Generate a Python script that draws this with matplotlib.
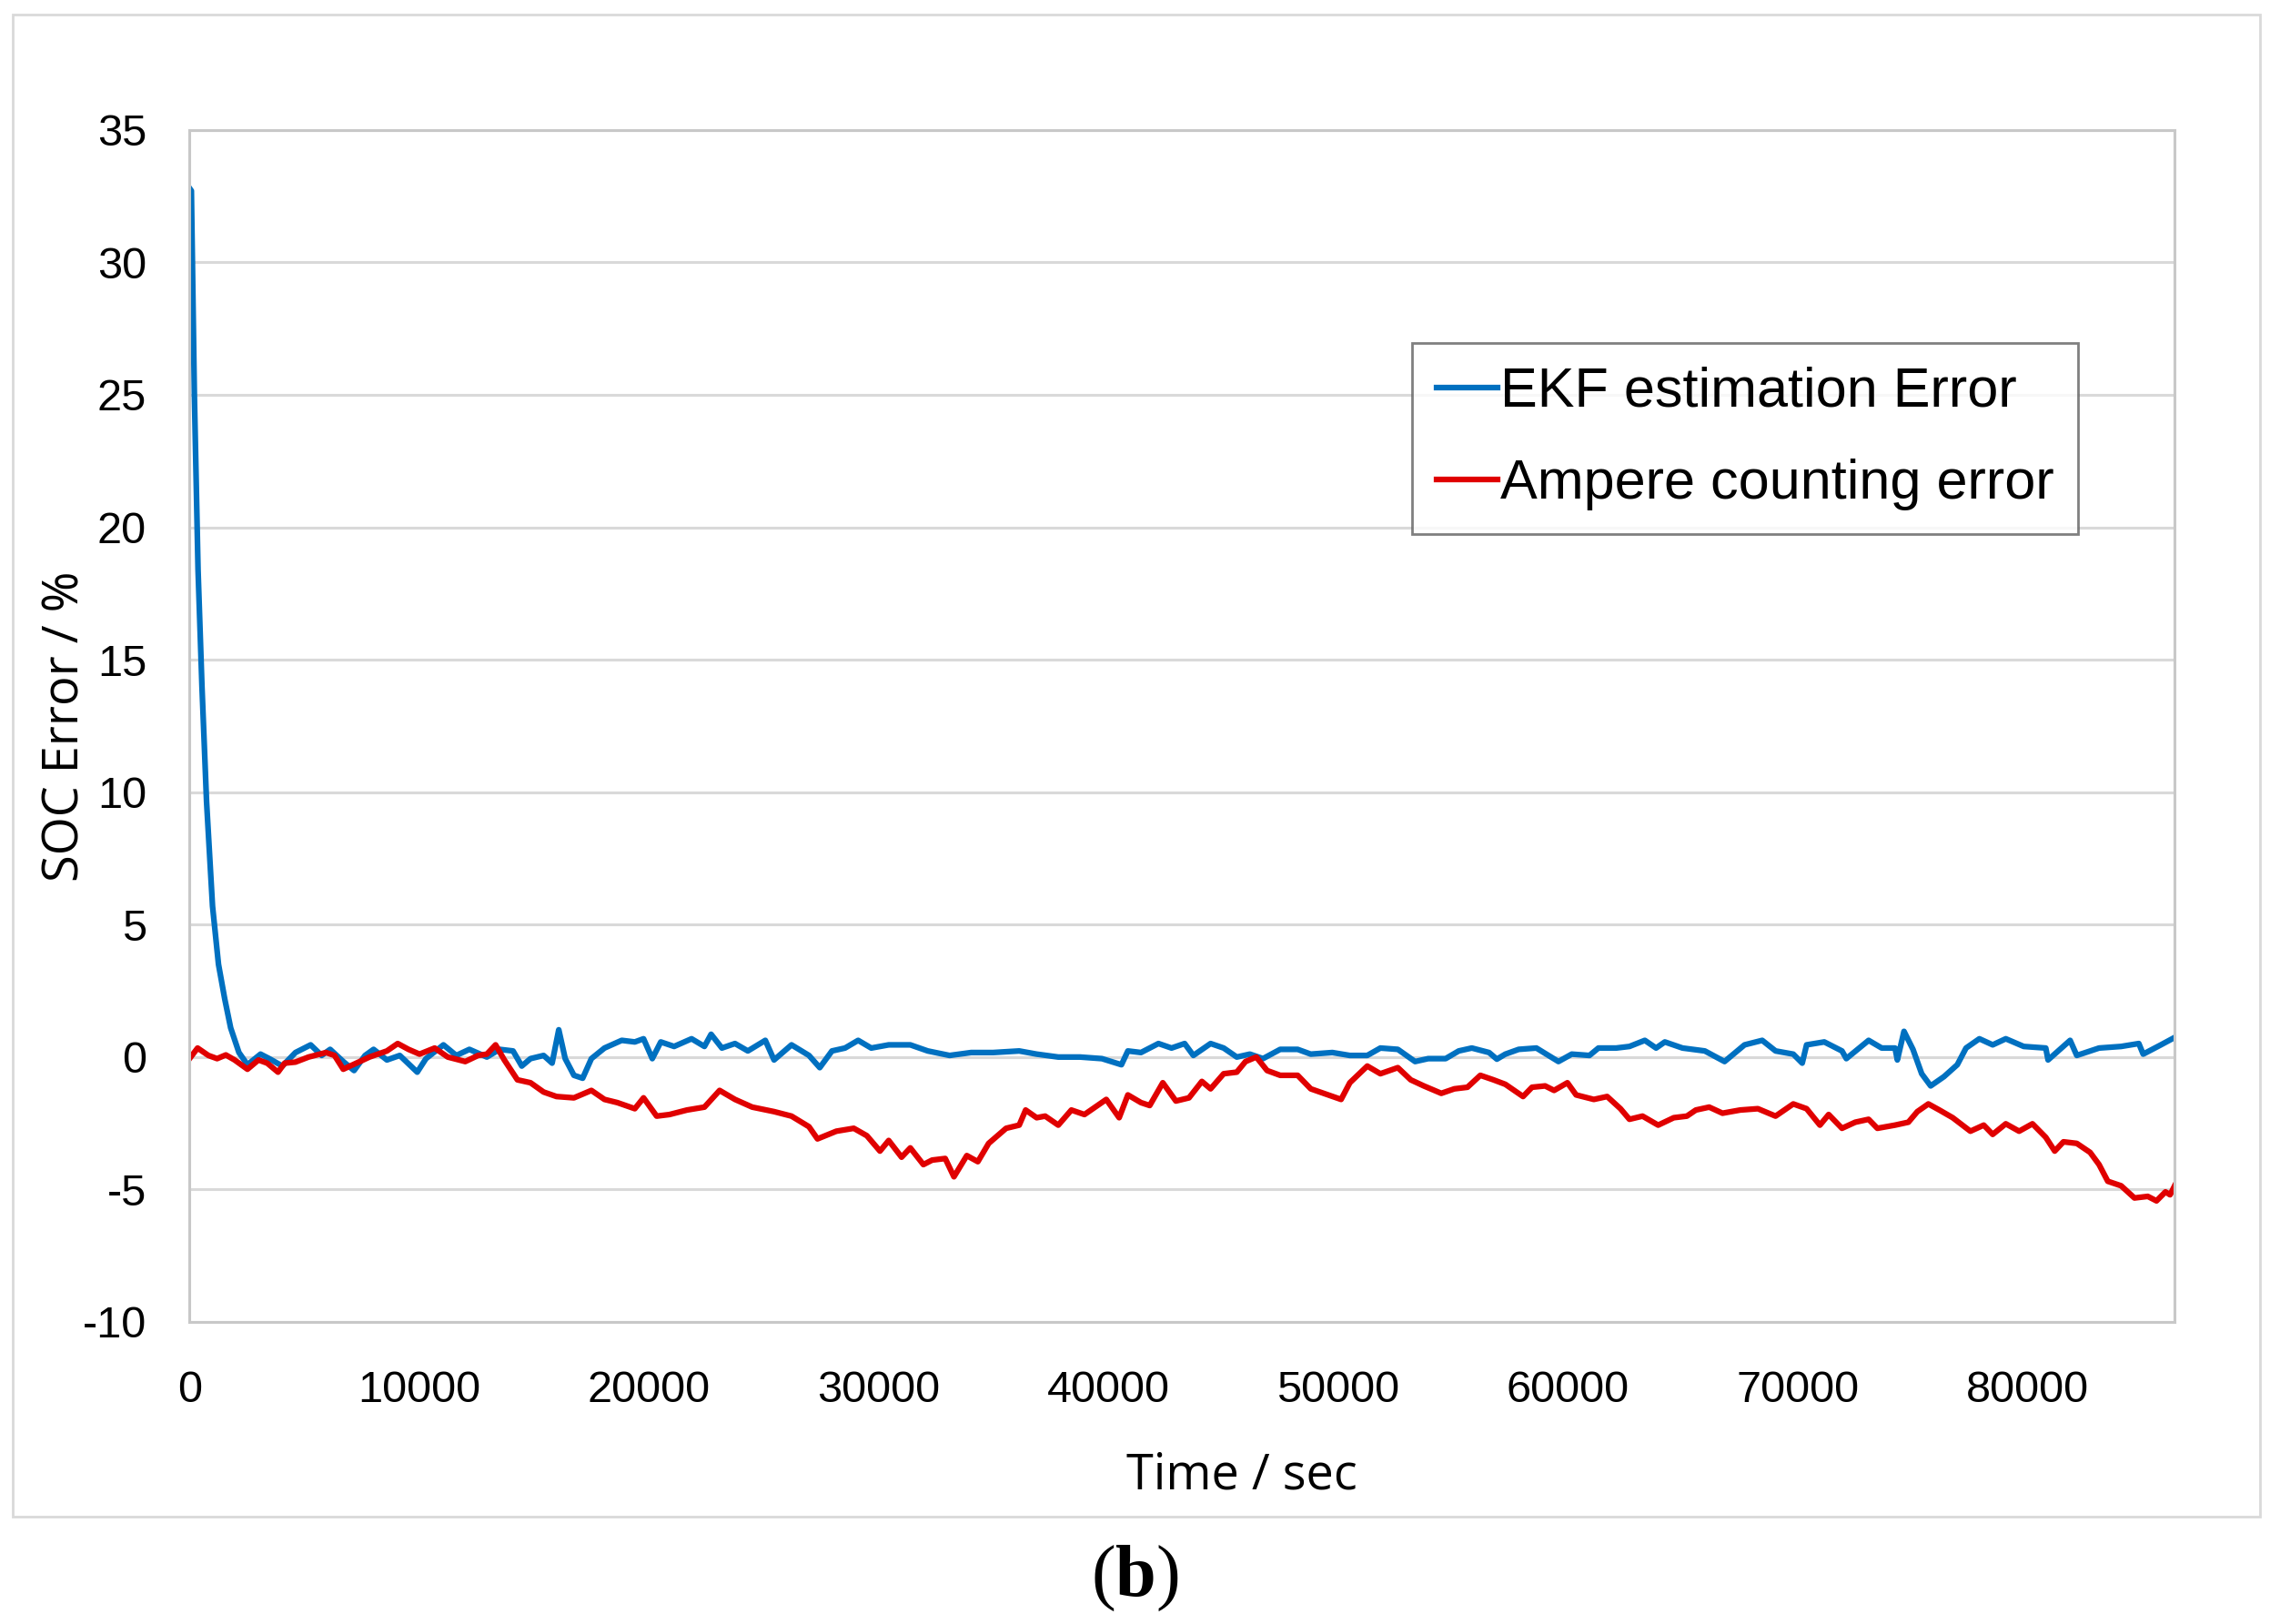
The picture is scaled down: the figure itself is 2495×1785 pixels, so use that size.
import matplotlib
matplotlib.use("Agg")
import matplotlib.pyplot as plt
from matplotlib.patches import Rectangle

# EKF estimation error (time in s, error in %)
ekf_t = [0, 80, 210, 370, 540, 740, 1000, 1260, 1530, 1790, 2150, 2520, 3090, 3470,
         4040, 4610, 5270, 5750, 6120, 6690, 7160, 7640, 8010, 8590, 9150, 9910,
         10290, 11050, 11610, 12180, 12940, 13500, 14080, 14460, 14840, 15410,
         15780, 16070, 16350, 16730, 17110, 17490, 18060, 18810, 19380, 19760,
         20140, 20510, 21090, 21850, 22410, 22700, 23170, 23740, 24300, 25060,
         25440, 26200, 26960, 27430, 27960, 28530, 29100, 29670, 30430, 31370,
         32130, 33080, 34020, 34970, 36110, 36870, 37810, 38760, 39710, 40560,
         40840, 41410, 42170, 42740, 43310, 43690, 44440, 45010, 45580, 46150,
         46720, 47470, 48230, 48800, 49740, 50500, 51260, 51830, 52590, 53340,
         53910, 54670, 55240, 55810, 56560, 56900, 57270, 57850, 58620, 59580,
         60160, 60930, 61320, 62090, 62670, 63340, 63830, 64210, 64980, 65950,
         66810, 67680, 68450, 69030, 69800, 70190, 70380, 71150, 71920, 72110,
         73080, 73650, 74230, 74330, 74620, 75010, 75390, 75780, 76360, 76940,
         77320, 77900, 78480, 79050, 79830, 80790, 80890, 81850, 82140, 83110,
         84070, 84840, 85030, 85800, 86400]
ekf_err = [32.8, 32.7, 25.0, 18.4, 14.0, 9.65, 5.7, 3.5, 2.2, 1.1, 0.17, -0.29, 0.11, -0.06,
           -0.34, 0.17, 0.46, 0.06, 0.29, -0.17, -0.51, 0.06, 0.29, -0.11, 0.06, -0.57,
           -0.06, 0.46, 0.06, 0.29, 0.0, 0.29, 0.23, -0.34, -0.06, 0.06,
           -0.23, 1.03, -0.06, -0.69, -0.8, -0.06, 0.34, 0.63, 0.57, 0.69,
           -0.06, 0.57, 0.40, 0.69, 0.40, 0.86, 0.34, 0.51, 0.23, 0.63,
           -0.11, 0.46, 0.06, -0.4, 0.23, 0.34, 0.63, 0.34, 0.46, 0.46,
           0.23, 0.06, 0.17, 0.17, 0.23, 0.11, 0.0, 0.0, -0.06, -0.29,
           0.23, 0.17, 0.51, 0.34, 0.51, 0.06, 0.51, 0.34, 0.0, 0.11,
           -0.06, 0.29, 0.29, 0.11, 0.17, 0.06, 0.06, 0.34, 0.29, -0.17,
           -0.06, -0.06, 0.23, 0.34, 0.17, -0.08, 0.11, 0.29, 0.34, -0.17,
           0.11, 0.06, 0.34, 0.34, 0.40, 0.63, 0.34, 0.57, 0.34, 0.23,
           -0.17, 0.46, 0.63, 0.23, 0.11, -0.23, 0.46, 0.57, 0.23, -0.06,
           0.63, 0.34, 0.34, -0.11, 0.97, 0.29, -0.63, -1.09, -0.74, -0.29,
           0.34, 0.69, 0.46, 0.69, 0.40, 0.34, -0.11, 0.63, 0.06, 0.34,
           0.40, 0.51, 0.11, 0.46, 0.74]

# Ampere counting error
ah_t = [0, 350, 820, 1200, 1580, 1960, 2520, 3000, 3380, 3850, 4140, 4610, 5180,
        5940, 6310, 6690, 7260, 7830, 8590, 9060, 9530, 10010, 10670, 11240,
        12000, 12560, 12940, 13320, 13700, 14270, 14840, 15410, 15970, 16730,
        17490, 18060, 18620, 19380, 19760, 20330, 20890, 21650, 22410, 23070,
        23740, 24490, 25440, 26200, 26960, 27330, 28150, 28910, 29480, 30050,
        30430, 30990, 31370, 31940, 32320, 32890, 33270, 33830, 34310, 34780,
        35540, 36110, 36390, 36870, 37240, 37810, 38380, 38950, 39520, 39900,
        40460, 40840, 41410, 41790, 42360, 42930, 43500, 44060, 44440, 45010,
        45580, 45960, 46430, 46900, 47470, 48230, 48800, 49360, 50120, 50500,
        51260, 51830, 52590, 53150, 53720, 54480, 55050, 55620, 56180, 56750,
        57270, 58040, 58430, 59000, 59390, 59970, 60350, 61120, 61700, 62280,
        62670, 63240, 63920, 64600, 65170, 65560, 66140, 66720, 67490, 68260,
        69030, 69800, 70380, 70960, 71340, 71920, 72500, 73080, 73460, 74230,
        74810, 75200, 75680, 76160, 76740, 77510, 78090, 78480, 79050, 79630,
        80210, 80790, 81180, 81560, 82140, 82720, 83110, 83490, 84070, 84650,
        85230, 85610, 86000, 86200, 86400]
ah_err = [-0.06, 0.34, 0.06, -0.06, 0.08, -0.11, -0.46, -0.11, -0.23, -0.57, -0.23, -0.19, 0.0,
          0.17, 0.06, -0.46, -0.23, 0.0, 0.23, 0.51, 0.29, 0.11, 0.34, 0.0,
          -0.17, 0.06, 0.11, 0.46, -0.11, -0.86, -0.97, -1.32, -1.49, -1.54,
          -1.26, -1.6, -1.72, -1.95, -1.54, -2.23, -2.17, -2.0, -1.89, -1.26,
          -1.6, -1.89, -2.06, -2.23, -2.63, -3.09, -2.80, -2.69, -2.97, -3.55,
          -3.15, -3.78, -3.43, -4.06, -3.89, -3.83, -4.52, -3.72, -3.95, -3.26,
          -2.69, -2.57, -2.0, -2.29, -2.23, -2.57, -2.0, -2.17, -1.83, -1.6,
          -2.29, -1.43, -1.72, -1.83, -0.97, -1.66, -1.54, -0.92, -1.2, -0.63,
          -0.57, -0.17, 0.0, -0.51, -0.69, -0.69, -1.2, -1.37, -1.6, -0.97,
          -0.34, -0.63, -0.4, -0.86, -1.09, -1.37, -1.2, -1.14, -0.69, -0.86,
          -1.03, -1.49, -1.14, -1.09, -1.26, -0.97, -1.43, -1.6, -1.49, -1.95,
          -2.35, -2.23, -2.57, -2.29, -2.23, -2.0, -1.89, -2.12, -2.0, -1.95,
          -2.23, -1.77, -1.95, -2.57, -2.17, -2.69, -2.46, -2.35, -2.69, -2.57,
          -2.46, -2.06, -1.77, -2.0, -2.29, -2.80, -2.57, -2.92, -2.52, -2.80,
          -2.52, -3.03, -3.55, -3.20, -3.26, -3.60, -4.06, -4.69, -4.86, -5.32,
          -5.26, -5.43, -5.09, -5.2, -4.86]

x_ticks = [0, 10000, 20000, 30000, 40000, 50000, 60000, 70000, 80000]
y_ticks = [-10, -5, 0, 5, 10, 15, 20, 25, 30, 35]

plt.rcParams['font.family'] = ['Liberation Sans', 'DejaVu Sans']
plt.rcParams['axes.unicode_minus'] = False
plt.rcParams['mathtext.fontset'] = 'custom'
plt.rcParams['mathtext.rm'] = 'Liberation Serif'
plt.rcParams['mathtext.bf'] = 'Liberation Serif:bold'

fig = plt.figure(figsize=(24.95, 17.85), dpi=100)
ax = fig.add_axes([0.0835, 0.186, 0.8745, 0.734])

# outer chart border
fig.patches.append(Rectangle((0.0057, 0.066), 0.9899, 0.925, transform=fig.transFigure,
                             fill=False, edgecolor='#d9d9d9', linewidth=2))

ax.plot(ekf_t, ekf_err, color='#0070c0', linewidth=4.5, label='EKF estimation Error')
ax.plot(ah_t, ah_err, color='#e00000', linewidth=4.5, label='Ampere counting error')

ax.set_xlim(0, 86400)
ax.set_ylim(-10, 35)
ax.set_xticks(x_ticks)
ax.set_yticks(y_ticks)
ax.tick_params(length=0, labelsize=35)
ax.tick_params(axis='y', pad=34)
ax.tick_params(axis='x', pad=38)
ax.grid(axis='y', color='#d9d9d9', linewidth=2.2)
ax.set_axisbelow(True)
for s in ax.spines.values():
    s.set_color('#c8c8c8')
    s.set_linewidth(2.2)

ax.set_xlabel('Time / sec', fontsize=39, family='Open Sans')
ax.xaxis.set_label_coords(0.53, -0.108)
ax.set_ylabel('SOC Error / %', fontsize=39, family='Open Sans')
ax.yaxis.set_label_coords(-0.05, 0.5)

leg = ax.legend(loc='upper left', bbox_to_anchor=(0.616, 0.8215), fontsize=44,
                frameon=True, fancybox=False, edgecolor='#606060', handlelength=1.1,
                handletextpad=0.05, borderpad=0.43, labelspacing=0.72, borderaxespad=0)
leg.get_frame().set_linewidth(2.0)

fig.text(0.5, 0.028, r'$\mathrm{(}\mathbf{b}\mathrm{)}$', ha='center', va='center', fontsize=58)

fig.savefig('out.png', dpi=100)
